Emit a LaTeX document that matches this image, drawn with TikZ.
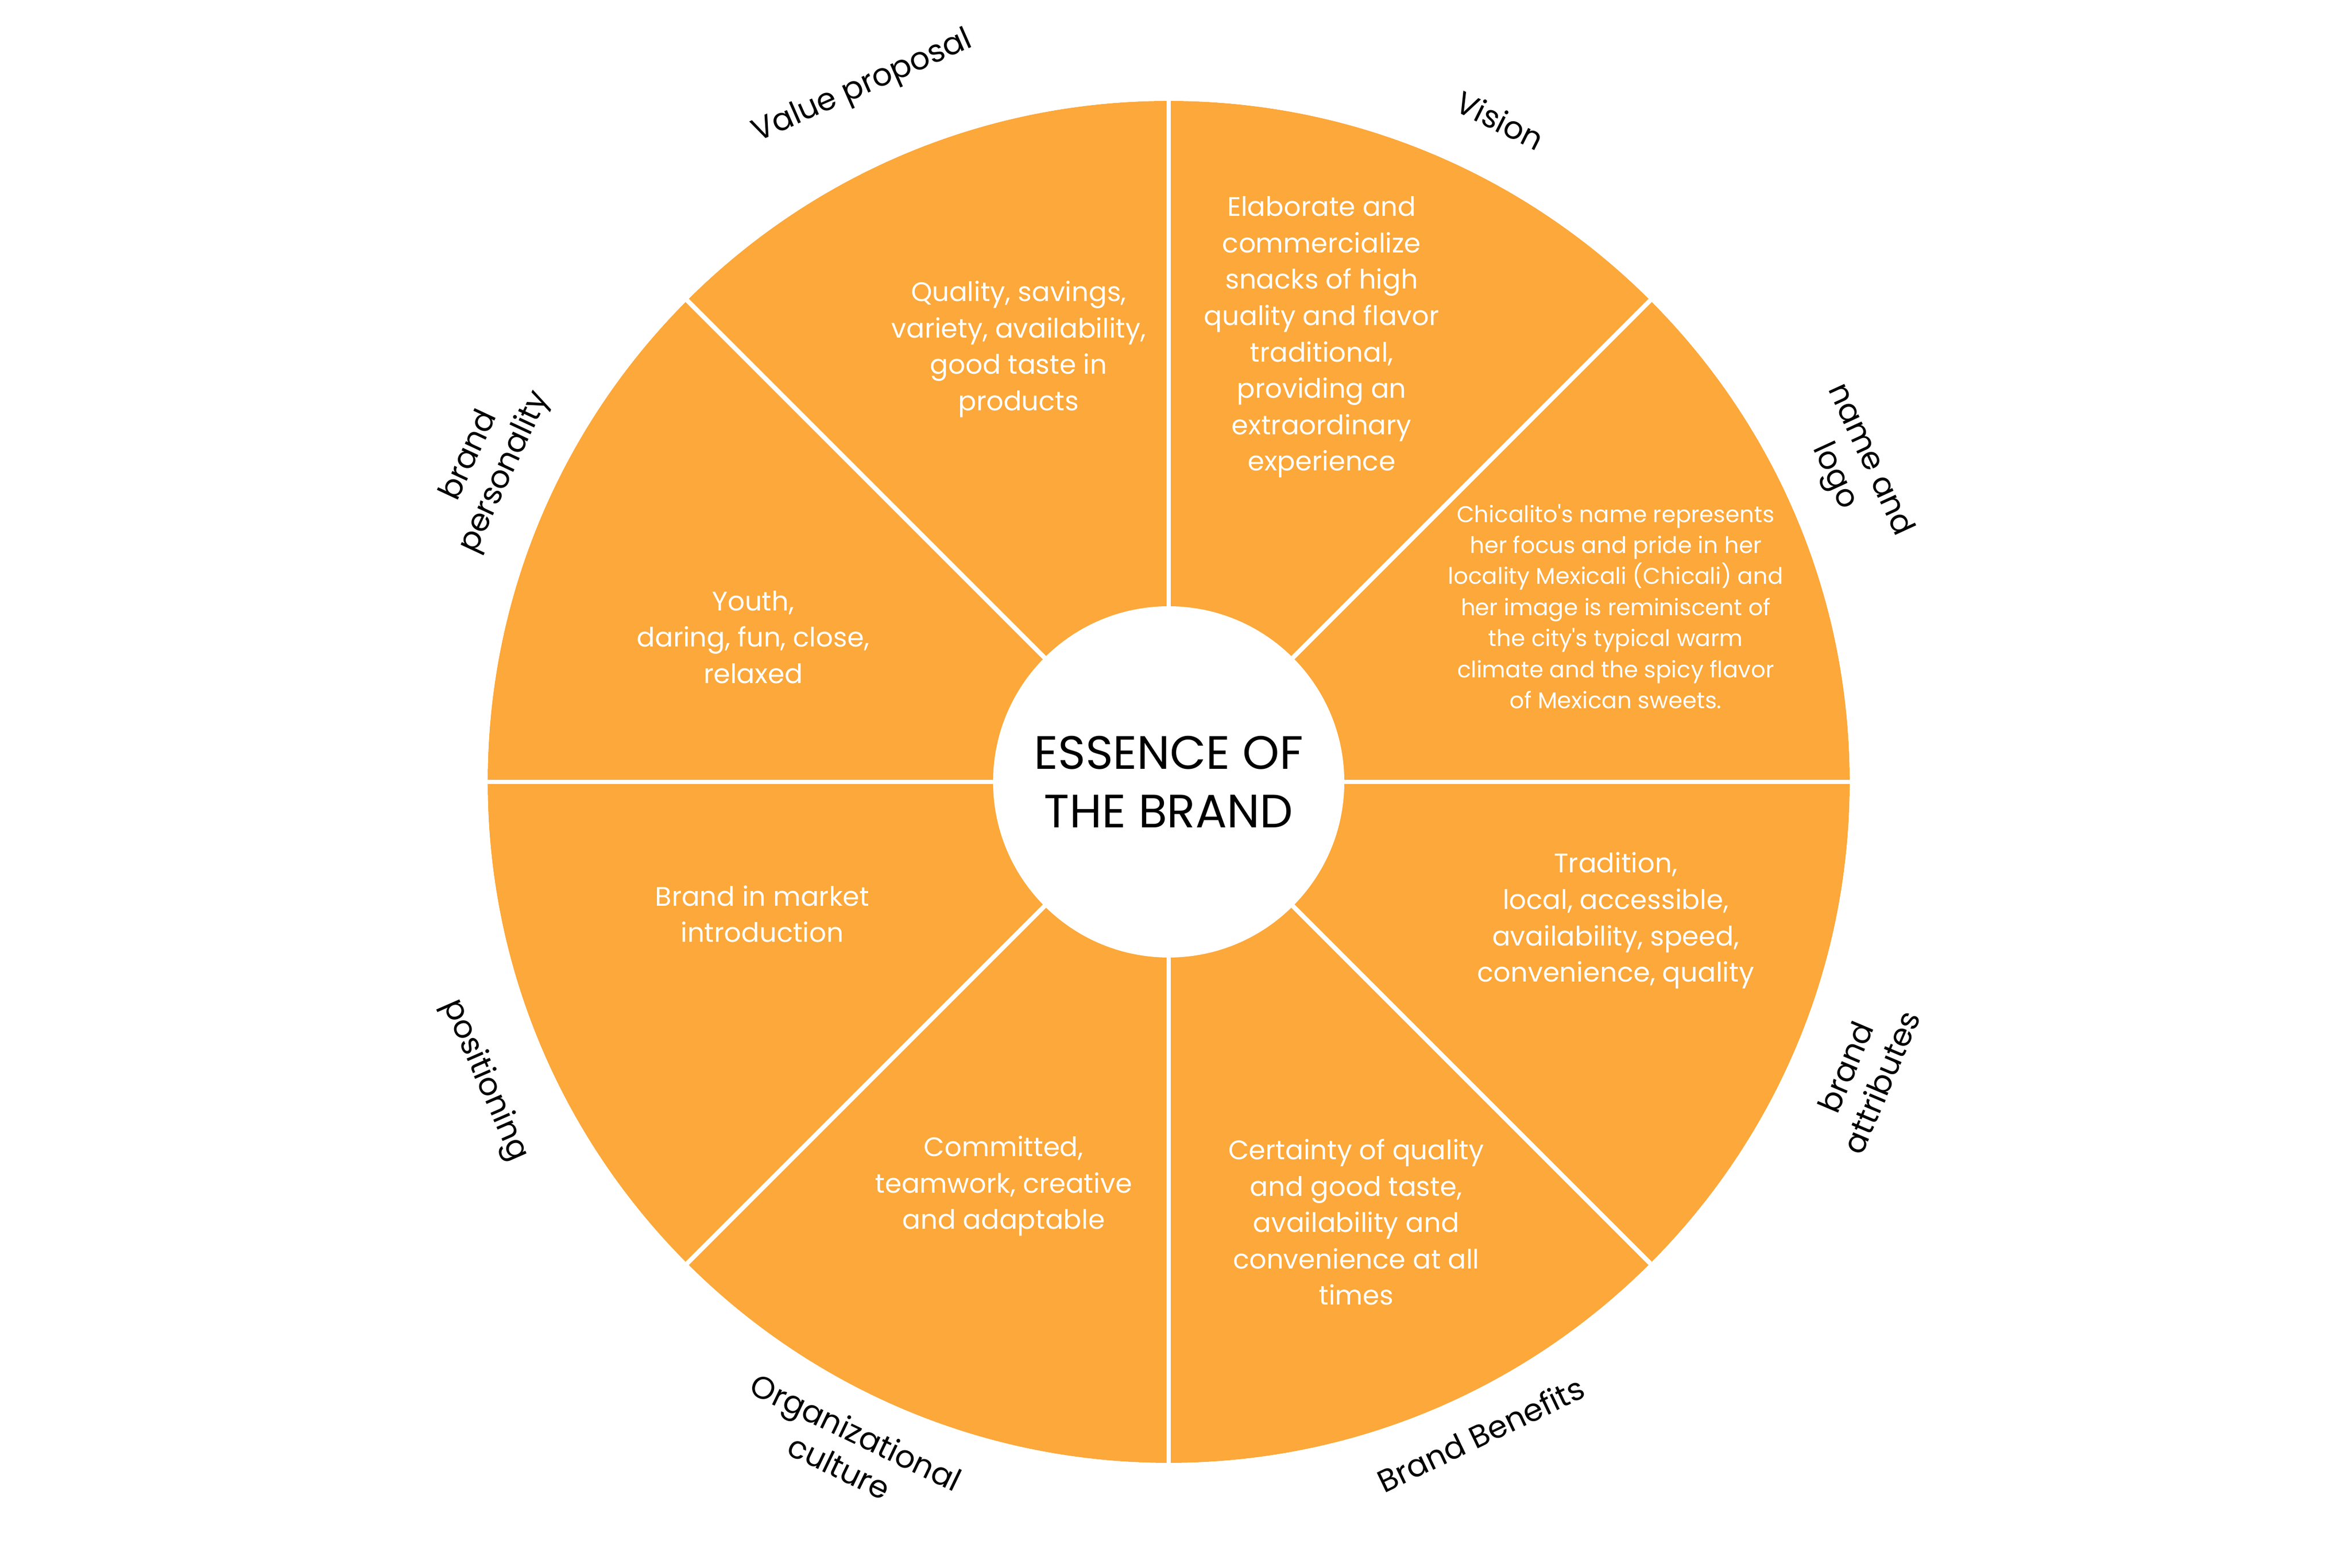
\documentclass[tikz,border=0pt]{standalone}
\usepackage{fontspec}
\setmainfont{Poppins}
\definecolor{wheel}{RGB}{252,168,58}
\newcommand{\sq}{\XeTeXglyph\XeTeXcharglyph"0027\relax}
\tikzset{
  body/.style={text=white, align=center, font=\fontsize{14.6}{19.8}\selectfont},
  smallbody/.style={text=white, align=center, font=\fontsize{12.4}{16.9}\selectfont},
  lbl/.style={text=black, align=center, font=\fontsize{17}{21}\selectfont},
  divider/.style={white, line width=2.5pt},
}
\begin{document}
\begin{tikzpicture}[x=1cm,y=1cm]
\useasboundingbox (0,0) rectangle (45,30);
\coordinate (O) at (22.36,15.04);
\fill[wheel] (O) circle (13.03);
\foreach \a in {0,45,...,315} \draw[divider] (O) -- ++(\a:13.2);
\fill[white,even odd rule] (-1,-1) rectangle (46,31) (O) circle (13.03);
\node[circle, fill=white, minimum size=6.72cm, inner sep=0pt, align=center,
      font=\fontsize{25.5}{32}\selectfont] (core) at (O) {ESSENCE OF\\THE BRAND};
% sector texts
\node[body] (tvp) at ([shift={(-2.87,8.28)}]O) {Quality, savings,\\variety, availability,\\good taste in\\products};
\node[body] (tvis) at ([shift={(2.927,8.509)}]O) {Elaborate and\\commercialize\\snacks of high\\quality and flavor\\traditional,\\providing an\\extraordinary\\experience};
\node[smallbody] (tname) at ([shift={(8.552,3.358)}]O) {Chicalito\sq s name represents\\her focus and pride in her\\locality Mexicali (Chicali) and\\her image is reminiscent of\\the city\sq s typical warm\\climate and the spicy flavor\\of Mexican sweets.};
\node[body] (tpers) at ([shift={(-7.950,2.769)}]O) {Youth,\\daring, fun, close,\\relaxed};
\node[body] (tattr) at ([shift={(8.552,-2.655)}]O) {Tradition,\\local, accessible,\\availability, speed,\\convenience, quality};
\node[body] (tpos) at ([shift={(-7.777,-2.526)}]O) {Brand in market\\introduction};
\node[body] (torg) at ([shift={(-3.157,-7.734)}]O) {Committed,\\teamwork, creative\\and adaptable};
\node[body] (tben) at ([shift={(3.587,-8.423)}]O) {Certainty of quality\\and good taste,\\availability and\\convenience at all\\times};
% outer labels
\node[lbl, rotate=23.8] (lvp) at ([shift={(-5.855,13.29)}]O) {Value proposal};
\node[lbl, rotate=-26.6] (lvis) at ([shift={(6.342,12.657)}]O) {Vision};
\node[lbl, rotate=-65.3] (lname) at ([shift={(13.06,6.00)}]O) {name and\\logo};
\node[lbl, rotate=67.1] (lattr) at ([shift={(13.29,-5.60)}]O) {brand\\attributes};
\node[lbl, rotate=25.6] (lben) at ([shift={(5.97,-12.48)}]O) {Brand Benefits};
\node[lbl, rotate=-25.7] (lorg) at ([shift={(-6.14,-12.77)}]O) {Organizational\\culture};
\node[lbl, rotate=-66.4] (lpos) at ([shift={(-13.09,-5.71)}]O) {positioning};
\node[lbl, rotate=65.0] (lpers) at ([shift={(-13.03,6.08)}]O) {brand\\personality};
\end{tikzpicture}
\end{document}
